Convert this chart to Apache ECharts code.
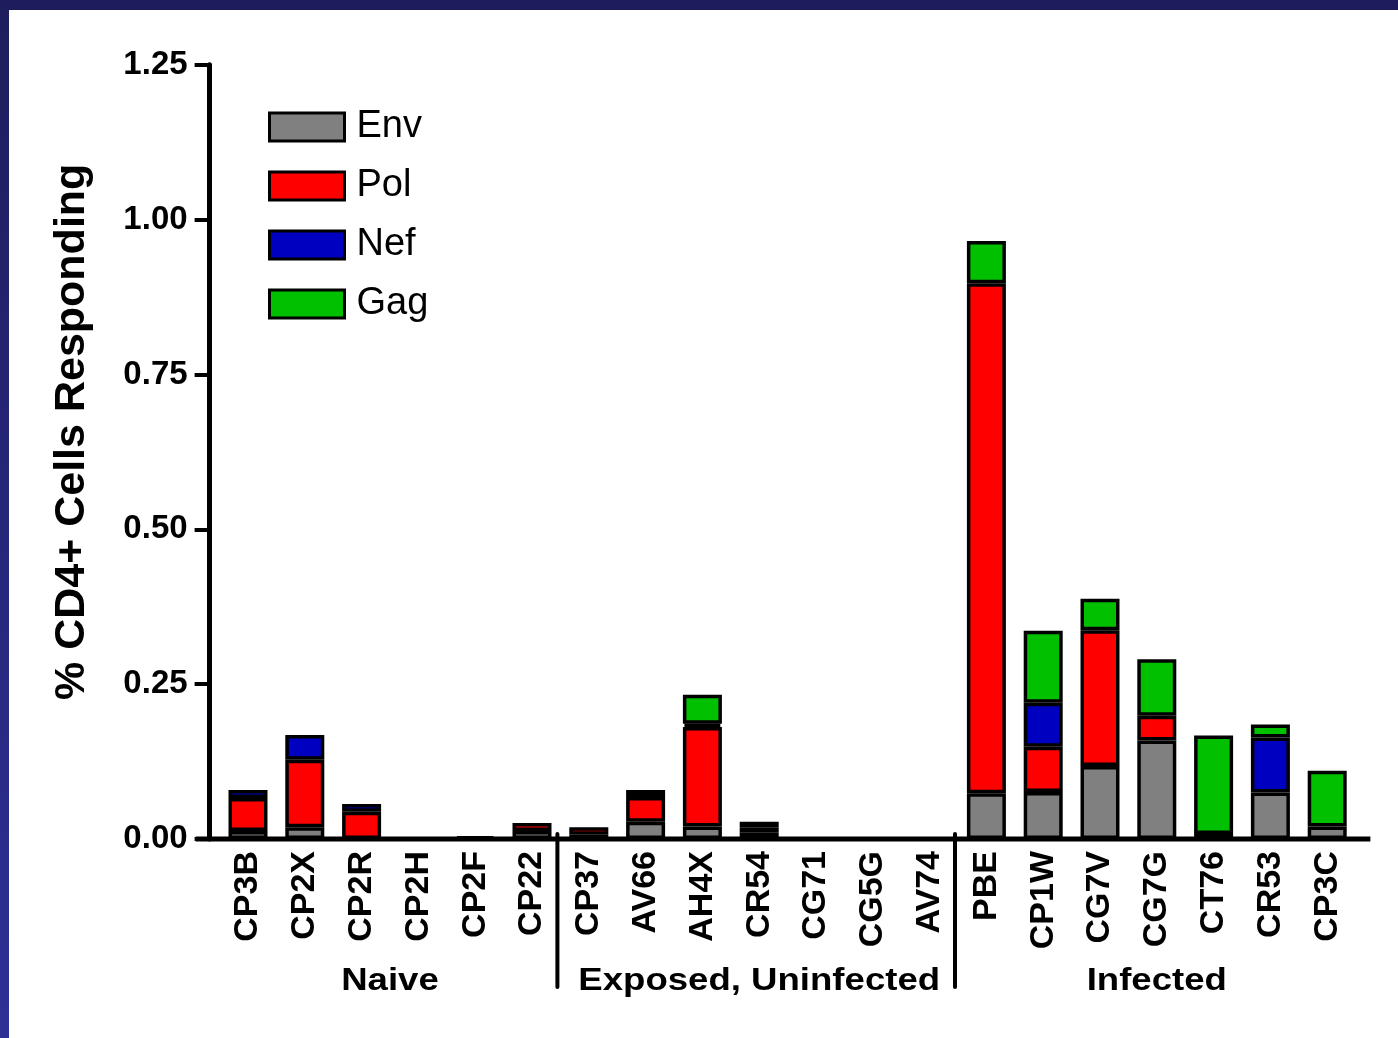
<!DOCTYPE html>
<html>
<head>
<meta charset="utf-8">
<script src="https://cdn.jsdelivr.net/npm/echarts@6/dist/echarts.min.js"></script>
<style>
  html, body { margin: 0; padding: 0; background: #fff; }
  #chart { width: 1398px; height: 1038px; }
</style>
</head>
<body>
<div id="chart"></div>
<script>
// ---- data ----
const categories = ['CP3B','CP2X','CP2R','CP2H','CP2F','CP22','CP37','AV66','AH4X','CR54','CG71','CG5G','AV74','PBE','CP1W','CG7V','CG7G','CT76','CR53','CP3C'];
const envValues = [0.013,0.019,0,0,0.004,0.013,0.007,0.028,0.020,0.011,0,0,0,0.074,0.076,0.118,0.159,0.008,0.075,0.020];
const polValues = [0.053,0.109,0.044,0,0,0.013,0.012,0.040,0.161,0.007,0,0,0,0.823,0.073,0.219,0.040,0,0,0];
const nefValues = [0.013,0.040,0.0125,0,0,0,0,0,0.005,0,0,0,0,0,0.071,0,0,0,0.089,0];
const gagValues = [0,0,0,0,0,0,0,0.011,0.047,0.010,0,0,0,0.0685,0.116,0.051,0.091,0.159,0.021,0.090];
const seriesNames = ['Env','Pol','Nef','Gag'];
const yTicks = { min: 0, max: 1.25, interval: 0.25 };
const groups = [
  { name: 'Naive', from: 0, to: 5 },
  { name: 'Exposed, Uninfected', from: 6, to: 12 },
  { name: 'Infected', from: 13, to: 19 }
];
const yTitle = '% CD4+ Cells Responding';

// ---- styling ----
const FONT = "'Liberation Sans', Arial, Helvetica, sans-serif";
const colors = { Env: '#808080', Pol: '#ff0000', Nef: '#0000c0', Gag: '#00c000' };
const valuesByName = { Env: envValues, Pol: polValues, Nef: nefValues, Gag: gagValues };

const chart = echarts.init(document.getElementById('chart'), null, { renderer: 'canvas' });

const option = {
  animation: false,
  backgroundColor: '#ffffff',
  grid: { left: 219.6, right: 42.4, top: 64.7, bottom: 199, containLabel: false },
  legend: {
    data: seriesNames,
    orient: 'vertical',
    left: 263,
    top: 102,
    itemWidth: 75,
    itemHeight: 28,
    itemGap: 19,
    icon: 'rect',
    itemStyle: { borderColor: '#000', borderWidth: 3 },
    textStyle: { fontSize: 38, color: '#000', fontFamily: FONT, lineHeight: 40, padding: [0, 0, 0, 7] },
    selectedMode: false
  },
  xAxis: {
    type: 'category',
    data: categories,
    axisLine: { show: false },
    axisTick: { show: false },
    axisLabel: {
      interval: 0, rotate: 90, margin: 12,
      fontSize: 34, fontWeight: 'bold', color: '#000', fontFamily: FONT
    },
    splitLine: { show: false }
  },
  yAxis: {
    type: 'value',
    min: yTicks.min, max: yTicks.max, interval: yTicks.interval,
    offset: 10,
    axisLine: { show: true, lineStyle: { color: '#000', width: 5 } },
    axisTick: { show: true, length: 15, lineStyle: { color: '#000', width: 4 } },
    axisLabel: {
      formatter: v => v.toFixed(2), margin: 22,
      fontSize: 33, fontWeight: 'bold', color: '#000', fontFamily: FONT
    },
    splitLine: { show: false },
    name: yTitle,
    nameLocation: 'middle',
    nameRotate: 90,
    nameGap: 116,
    nameTextStyle: { fontSize: 43, fontWeight: 'bold', color: '#000', fontFamily: FONT, padding: [0, 0, 0, 40] }
  },
  series: seriesNames.map(n => ({
    name: n,
    type: 'bar',
    stack: 'total',
    barWidth: 39,
    data: valuesByName[n].map(v => (v === 0 ? null : v)),
    itemStyle: { color: colors[n], borderColor: '#000', borderWidth: 3.5 }
  }))
};

chart.setOption(option);

// ---- decorations derived from the axes ----
const px = i => chart.convertToPixel({ xAxisIndex: 0 }, i);
const y0 = chart.convertToPixel({ yAxisIndex: 0 }, 0);
const firstX = px(0), lastX = px(categories.length - 1);
const step = px(1) - px(0);
const graphics = [];

// frame bands
graphics.push({ type: 'rect', shape: { x: 0, y: 0, width: 1398, height: 10 }, style: { fill: '#1e1d5c' }, z: 100 });
graphics.push({
  type: 'rect', shape: { x: 0, y: 0, width: 9, height: 1038 },
  style: { fill: new echarts.graphic.LinearGradient(0, 0, 0, 1, [{ offset: 0, color: '#1e1d5c' }, { offset: 1, color: '#2e3096' }]) },
  z: 100
});

// x-axis line (extends beyond the category bands)
graphics.push({
  type: 'line', shape: { x1: firstX - step * 0.92, y1: y0, x2: lastX + step * 0.76, y2: y0 },
  style: { stroke: '#000', lineWidth: 5 }, z: 50
});

// group dividers and labels
groups.forEach((g, gi) => {
  if (gi > 0) {
    const xd = (px(g.from - 1) + px(g.from)) / 2 - 3;
    graphics.push({
      type: 'line', shape: { x1: xd, y1: y0 - 5, x2: xd, y2: y0 + 148 },
      style: { stroke: '#000', lineWidth: 4, lineCap: 'round' }, z: 50
    });
  }
  const cx = (px(g.from) + px(g.to)) / 2;
  graphics.push({
    type: 'text', x: cx, y: y0 + 142, scaleX: 1.18,
    style: {
      text: g.name, x: 0, y: 0,
      textAlign: 'center', textVerticalAlign: 'middle', align: 'center', verticalAlign: 'middle',
      font: 'bold 31px ' + FONT, fill: '#000'
    },
    z: 50
  });
});

chart.setOption({ graphic: graphics });
</script>
</body>
</html>
